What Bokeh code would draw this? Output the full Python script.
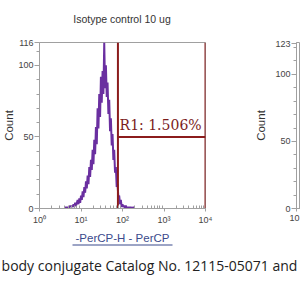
import numpy as np
from bokeh.plotting import figure
from bokeh.models import FixedTicker, Label, BoxAnnotation, Range1d
from bokeh.layouts import row, column
from bokeh.embed import file_html
from bokeh.resources import INLINE

# ---------------- data ----------------
title_text = "Isotype control 10 ug"
y_label = "Count"
x_label = "-PerCP-H - PerCP"
caption = "body conjugate Catalog No. 12115-05071 and"
gate_label = "R1: 1.506%"

decades = [0, 1, 2, 3, 4]
decade_labels = ["10⁰", "10¹", "10²", "10³", "10⁴"]
y_ticks_left = [0, 50, 100, 116]
y_ticks_right = [0, 50, 100, 123]
y_max_left = 116
y_max_right = 123.75
next_x_ticks = [0]
next_x_labels = ["10"]

# gate R1 (log10 fluorescence, count level)
gate_start = 1.89
gate_end = 4.0
gate_level = 50

# histogram: log10 PerCP-H channel vs count
log_fl = [0.60, 0.62, 0.64, 0.66, 0.68, 0.70, 0.72, 0.74, 0.76, 0.78,
          0.80, 0.82, 0.84, 0.86, 0.88, 0.90, 0.92, 0.94, 0.96, 0.98,
          1.00, 1.02, 1.04, 1.06, 1.08, 1.10, 1.12, 1.14, 1.16, 1.18,
          1.20, 1.22, 1.24, 1.26, 1.28, 1.30, 1.32, 1.34, 1.36, 1.38,
          1.40, 1.42, 1.44, 1.46, 1.48, 1.50, 1.52, 1.54, 1.56, 1.58,
          1.60, 1.62, 1.64, 1.66, 1.68, 1.70, 1.72, 1.74, 1.76, 1.78,
          1.80, 1.82, 1.84, 1.86, 1.88, 1.90, 1.92, 1.94, 1.96, 1.98,
          2.00, 2.02, 2.04, 2.06, 2.08, 2.10, 2.12, 2.14, 2.16, 2.18,
          2.20, 2.22, 2.24, 2.26, 2.28, 2.30]
counts = [0, 0, 1, 0, 1, 0, 1, 2, 1, 2,
          1, 3, 1, 4, 2, 4, 6, 3, 7, 4,
          9, 6, 12, 8, 15, 11, 19, 14, 23, 17,
          29, 22, 34, 27, 41, 31, 48, 38, 57, 45,
          70, 56, 80, 64, 92, 74, 96, 80, 116, 84,
          100, 78, 88, 66, 76, 54, 63, 44, 52, 34,
          41, 25, 29, 15, 17, 8, 9, 3, 6, 1,
          3, 1, 2, 0, 2, 0, 1, 0, 1, 0,
          1, 0, 0, 1, 0, 0]

# ---------------- styles ----------------
GRAY = "#a0a0a0"
TXT = "#444444"
SANS = "Liberation Sans"
RED = "#8b1c1c"
PURPLE = "#6a2fa0"
BLUE = "#3b4a8c"


def style_axes(p):
    p.xgrid.visible = False
    p.ygrid.visible = False
    for ax in list(p.xaxis) + list(p.yaxis):
        ax.axis_line_color = GRAY
        ax.major_tick_line_color = GRAY
        ax.minor_tick_line_color = GRAY
        ax.major_label_text_color = TXT
        ax.major_label_text_font = SANS
        ax.major_label_text_font_size = "9px"
        ax.axis_label_text_font = SANS
        ax.axis_label_text_font_size = "11.5px"
        ax.axis_label_text_font_style = "normal"
        ax.axis_label_text_color = "#333333"
    p.outline_line_color = GRAY
    p.background_fill_color = "white"
    p.border_fill_color = "white"


def strip(width, height):
    s = figure(width=width, height=height, x_range=Range1d(0, 1), y_range=Range1d(0, 1),
               output_backend="svg", toolbar_location=None, x_axis_type=None,
               y_axis_type=None, min_border=0)
    s.xgrid.visible = False
    s.ygrid.visible = False
    s.outline_line_color = None
    return s


def canvas_label(p, x, y, text, **kw):
    p.add_layout(Label(x=x, y=y, x_units="canvas", y_units="canvas", text=text, **kw))


# ---------------- title strip ----------------
ftop = strip(300, 30)
canvas_label(ftop, 121.5, 18, title_text, text_font=SANS, text_font_size="10.5px",
             text_color="#333333", text_align="center", text_baseline="middle")

# ---------------- main histogram ----------------
f1 = figure(width=250, height=200, x_range=Range1d(0, 4), y_range=Range1d(0, y_max_left),
            output_backend="svg", toolbar_location=None,
            min_border_left=38, min_border_right=45, min_border_top=12, min_border_bottom=22)
style_axes(f1)

minor_x = [d + np.log10(m) for d in decades[:-1] for m in range(2, 10)]
xa = f1.xaxis[0]
xa.ticker = FixedTicker(ticks=decades, minor_ticks=minor_x)
xa.major_label_overrides = {d: l for d, l in zip(decades, decade_labels)}
xa.major_tick_out = 3
xa.major_tick_in = 0
xa.minor_tick_out = 0
xa.minor_tick_in = 3
xa.major_label_standoff = 3

ya = f1.yaxis[0]
ya.ticker = FixedTicker(ticks=y_ticks_left, minor_ticks=list(range(10, 116, 10)))
ya.major_tick_out = 5
ya.major_tick_in = 0
ya.minor_tick_out = 3
ya.minor_tick_in = 0
ya.major_label_standoff = 1
ya.axis_label = y_label
ya.axis_label_standoff = 0

f1.line(log_fl, counts, color=PURPLE, line_width=2)

gate_xs = [[gate_start, gate_start], [gate_end, gate_end], [gate_start, gate_end]]
gate_ys = [[0, y_max_left], [0, y_max_left], [gate_level, gate_level]]
f1.multi_line(gate_xs, gate_ys, line_color=RED, line_width=2)

f1.add_layout(Label(x=gate_start + 0.04, y=gate_level + 2.5, text=gate_label,
                    text_font="DejaVu Serif", text_font_size="14px", text_color="#7b1c1c",
                    text_baseline="bottom", text_align="left"))

# ---------------- neighbouring panel (cut off) ----------------
f2 = figure(width=50, height=200, x_range=Range1d(0, 0.1), y_range=Range1d(0, y_max_right),
            output_backend="svg", toolbar_location=None,
            min_border_left=46, min_border_right=0, min_border_top=12, min_border_bottom=22)
style_axes(f2)
xb = f2.xaxis[0]
xb.ticker = FixedTicker(ticks=next_x_ticks)
xb.major_label_overrides = {t: l for t, l in zip(next_x_ticks, next_x_labels)}
xb.major_tick_out = 3
xb.major_tick_in = 0
xb.major_label_standoff = 3
yb = f2.yaxis[0]
yb.ticker = FixedTicker(ticks=y_ticks_right, minor_ticks=list(range(10, 123, 10)))
yb.major_tick_out = 5
yb.major_tick_in = 0
yb.minor_tick_out = 3
yb.minor_tick_in = 0
yb.major_label_standoff = 1
yb.axis_label = y_label
yb.axis_label_standoff = 5

# ---------------- x label + caption strip ----------------
fbot = strip(300, 70)
canvas_label(fbot, 122, 7, x_label, text_font=SANS, text_font_size="11.5px",
             text_color=BLUE, text_align="center", text_baseline="middle")
fbot.add_layout(BoxAnnotation(left=72, right=172, top=14, bottom=15,
                              left_units="canvas", right_units="canvas",
                              bottom_units="canvas", top_units="canvas",
                              fill_color=BLUE, fill_alpha=1, line_color=None))
canvas_label(fbot, 149, 35, caption, text_font="Open Sans", text_font_size="14px",
             text_color="#222222", text_align="center", text_baseline="middle")

layout = column(ftop, row(f1, f2), fbot)
open("out.html", "w").write(file_html(layout, INLINE))
